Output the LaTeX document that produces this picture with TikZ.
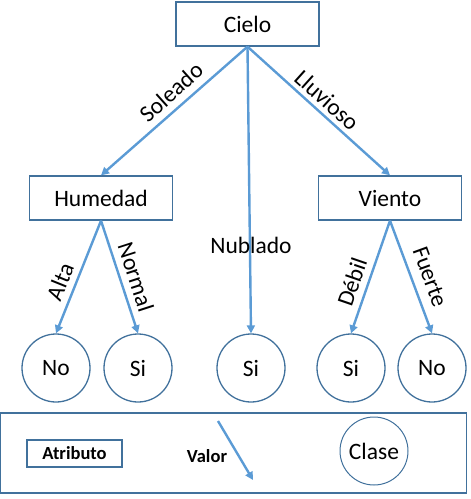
\documentclass[tikz,border=0pt]{standalone}
\usepackage{fontspec}
\setmainfont{Carlito}
\usetikzlibrary{arrows.meta}
\definecolor{rama}{RGB}{91,155,213}
\definecolor{borde}{RGB}{65,113,156}
\tikzset{
	atributo/.style={draw=borde, line width=1.3pt, minimum width=143pt, minimum height=44pt, inner sep=0pt, font=\fontsize{23.5}{27}\selectfont},
	clase/.style={circle, draw=borde, line width=1.3pt, minimum size=68pt, inner sep=0pt, font=\fontsize{23.5}{27}\selectfont},
	rama/.style={draw=rama, line width=2.4pt, -{Triangle[length=8pt,width=8pt]}},
	valor/.style={font=\fontsize{23.5}{27}\selectfont, inner sep=0pt},
	leyenda/.style={font=\bfseries\fontsize{18.5}{21}\selectfont, inner sep=0pt}
}
\begin{document}
\begin{tikzpicture}[x=1pt, y=-1pt]
			\useasboundingbox (0,0) rectangle (471,499);
			\node[atributo] (cielo) at (247.5,24) {Cielo};
			\node[atributo] (humedad) at (101,198) {Humedad};
			\node[atributo] (viento) at (390,198) {Viento};
			\node[clase] (noA) at (56,368) {No};
			\node[clase] (siA) at (138,368) {Si};
			\node[clase] (siB) at (251,368) {Si};
			\node[clase] (siC) at (351,368) {Si};
			\node[clase] (noB) at (432,368) {No};
			\draw[rama] (cielo.south) -- (humedad.north);
			\draw[rama] (cielo.south) -- (siB.north);
			\draw[rama] (cielo.south) -- (viento.north);
			\draw[rama] (humedad.south) -- (noA.north);
			\draw[rama] (humedad.south) -- (siA.north);
			\draw[rama] (viento.south) -- (siC.north);
			\draw[rama] (viento.south) -- (noB.north);
			\node[valor, rotate=42] (soleado) at (171,92) {Soleado};
			\node[valor, rotate=-42] (lluvioso) at (327,100) {Lluvioso};
			\node[valor] (nublado) at (251,245) {Nublado};
			\node[valor, rotate=68] (alta) at (60,282) {Alta};
			\node[valor, rotate=-72] (normal) at (136,277) {Normal};
			\node[valor, rotate=71] (debil) at (352,282) {Débil};
			\node[valor, rotate=-70] (fuerte) at (430,277) {Fuerte};
			\node[draw=borde, line width=1.3pt, minimum width=466pt, minimum height=80pt, inner sep=0pt] (marco) at (233.5,453) {};
			\node[draw=borde, line width=1.3pt, fill=white, minimum width=95pt, minimum height=27pt, leyenda] (latributo) at (74.5,453.5) {Atributo};
			\node[leyenda] (lvalor) at (207,456) {Valor};
			\coordinate (vA) at (218,421);
			\coordinate (vB) at (253,480);
			\draw[rama] (vA) -- (vB);
			\node[clase, line width=1pt] (lclase) at (374,451) {Clase};
		\end{tikzpicture}
\end{document}
